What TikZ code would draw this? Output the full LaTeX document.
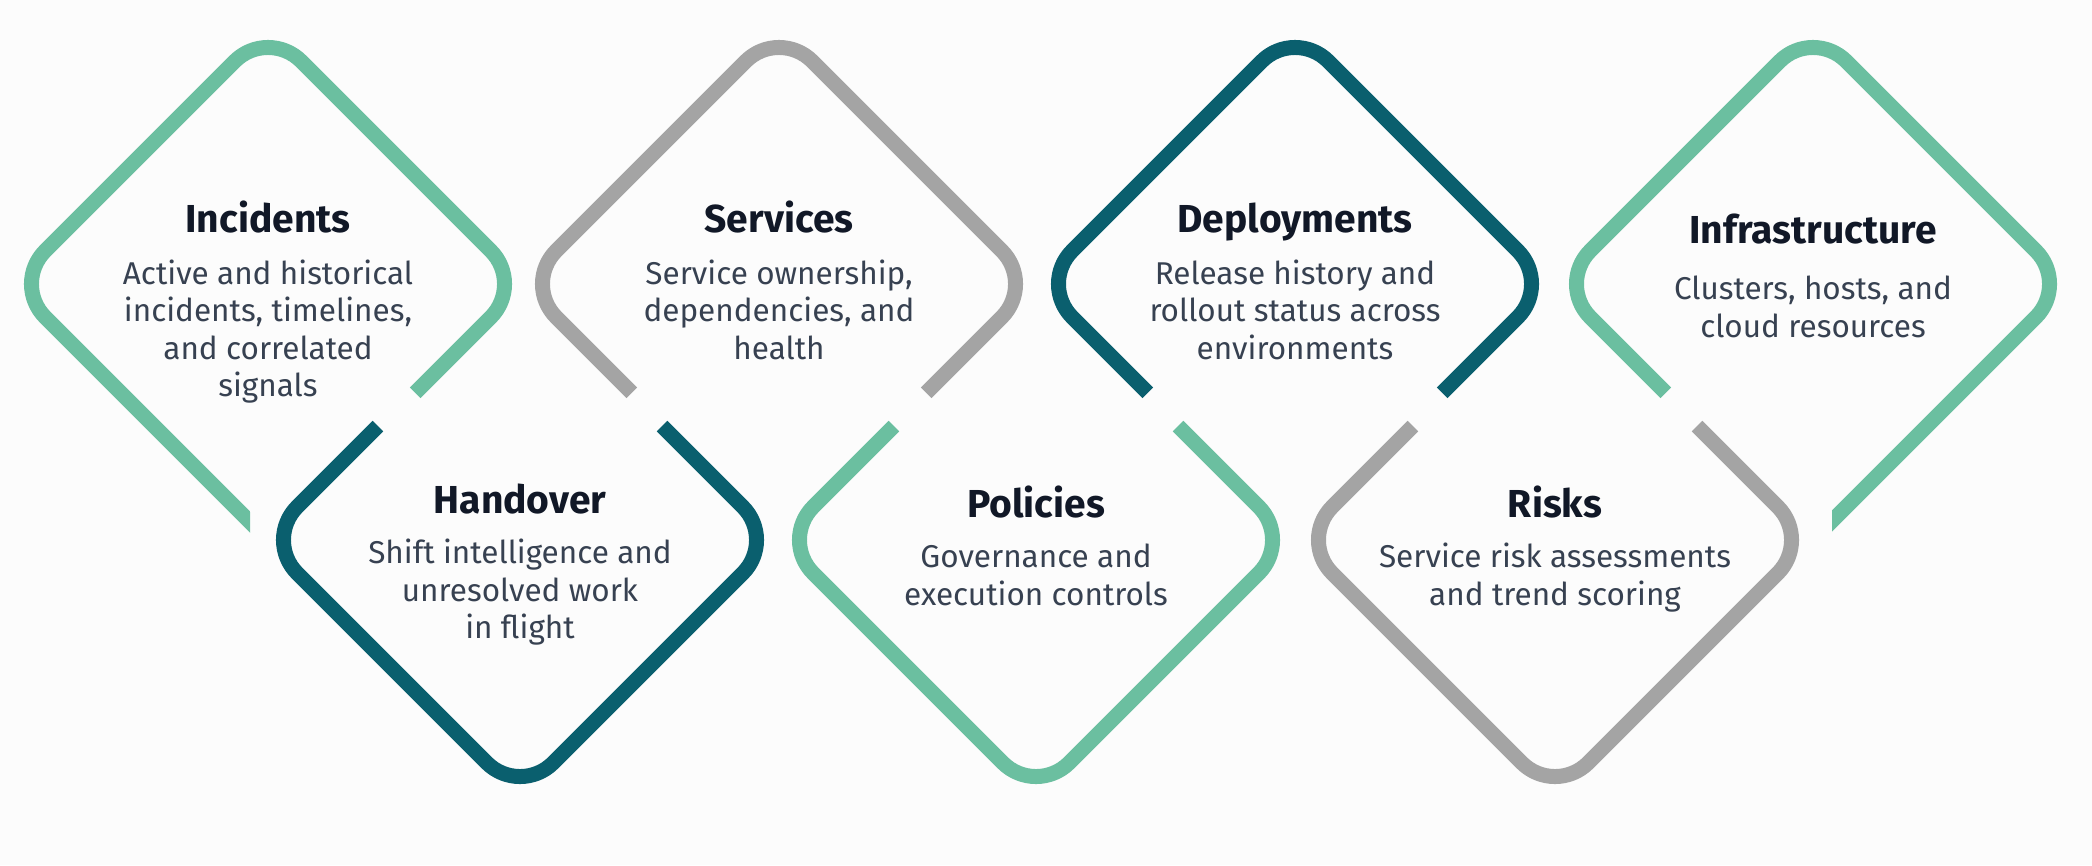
\documentclass[tikz,border=0pt]{standalone}
\usepackage{fontspec}
\setmainfont{Fira Sans}
\usetikzlibrary{calc}
\definecolor{cgreen}{HTML}{6BBFA0}
\definecolor{cteal}{HTML}{0A5F6E}
\definecolor{cgray}{HTML}{A4A4A4}
\definecolor{ctitle}{HTML}{111827}
\definecolor{cbody}{HTML}{374151}
\definecolor{cbg}{HTML}{FCFCFC}
\newcommand{\da}{256}
\newcommand{\topd}[4]{%
  \coordinate (#1) at (#2,#3);
  \draw[dstroke,#4] ({#2-0.575*\da},{#3+0.425*\da}) -- ({#2-\da},#3) -- (#2,{#3-\da}) -- ({#2+\da},#3) -- ({#2+0.575*\da},{#3+0.425*\da});}
\newcommand{\botd}[4]{%
  \coordinate (#1) at (#2,#3);
  \draw[dstroke,#4] ({#2-0.555*\da},{#3-0.445*\da}) -- ({#2-\da},#3) -- (#2,{#3+\da}) -- ({#2+\da},#3) -- ({#2+0.555*\da},{#3-0.445*\da});}
\newcommand{\blines}[4]{%
  \foreach \lnx [count=\k] in {#4} {
    \node[bodytext] (#1-\k) at (#2, {#3 + (\k-1)*37.5}) {\lnx};
  }}
\begin{document}
\begin{tikzpicture}[x=1pt,y=-1pt,
  dstroke/.style={line width=15pt, rounded corners=47pt, line join=round},
  ttl/.style={font=\fontsize{39}{46}\selectfont\bfseries, text=ctitle, anchor=base, inner sep=0pt},
  bodytext/.style={font=\fontsize{31.5}{37.5}\selectfont, text=cbody, anchor=base, inner sep=0pt}]
\fill[cbg] (0,0) rectangle (2092,865);
\useasboundingbox (0,0) rectangle (2092,865);

% Incidents (clipped free end)
\begin{scope}
  \clip (0,0) -- (600,0) -- (600,470) -- (250,470) -- (250,865) -- (0,865) -- cycle;
  \coordinate (inc) at (268,284);
  \draw[dstroke,cgreen] (268,{284+\da}) -- ({268-\da},284) -- (268,{284-\da}) -- ({268+\da},284) -- ({268+0.575*\da},{284+0.425*\da});
\end{scope}
\botd{hand}{520}{540}{cteal}
\topd{serv}{779}{284}{cgray}
\botd{pol}{1036}{540}{cgreen}
\topd{dep}{1295}{284}{cteal}
\botd{risk}{1555}{540}{cgray}
% Infrastructure (clipped free end)
\begin{scope}
  \clip (1500,0) -- (2092,0) -- (2092,865) -- (1832,865) -- (1832,470) -- (1500,470) -- cycle;
  \coordinate (infra) at (1813,284);
  \draw[dstroke,cgreen] ({1813-0.575*\da},{284+0.425*\da}) -- ({1813-\da},284) -- (1813,{284-\da}) -- ({1813+\da},284) -- (1813,{284+\da});
\end{scope}

% texts
\node[ttl] (inc-t) at (268,232) {Incidents};
\blines{inc}{268}{284}{Active and historical, {incidents, timelines,}, and correlated, signals}
\node[ttl] (serv-t) at (779,232) {Services};
\blines{serv}{779}{284}{{Service ownership,}, {dependencies, and}, health}
\node[ttl] (dep-t) at (1295,232) {Deployments};
\blines{dep}{1295}{284}{Release history and, rollout status across, environments}
\node[ttl] (infra-t) at (1813,243) {Infrastructure};
\blines{infra}{1813}{299.5}{{Clusters, hosts, and}, cloud resources}
\node[ttl] (hand-t) at (520,513) {Handover};
\blines{hand}{520}{563.5}{Shift intelligence and, unresolved work, in flight}
\node[ttl] (pol-t) at (1036,517) {Policies};
\blines{pol}{1036}{567.5}{Governance and, execution controls}
\node[ttl] (risk-t) at (1555,517) {Risks};
\blines{risk}{1555}{567.5}{Service risk assessments, and trend scoring}
\end{tikzpicture}
\end{document}
